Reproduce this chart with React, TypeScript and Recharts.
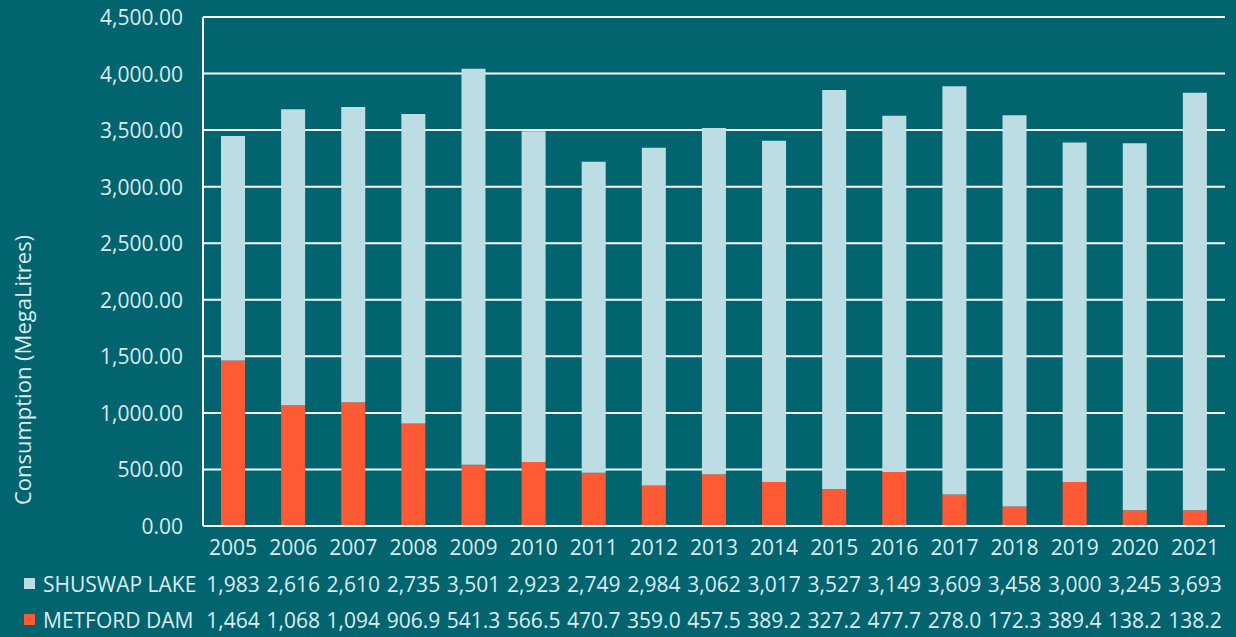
import { BarChart, Bar, XAxis, YAxis, CartesianGrid } from "recharts";

const years = ["2005", "2006", "2007", "2008", "2009", "2010", "2011", "2012", "2013", "2014", "2015", "2016", "2017", "2018", "2019", "2020", "2021"];
const shuswapLake = [1983, 2616, 2610, 2735, 3501, 2923, 2749, 2984, 3062, 3017, 3527, 3149, 3609, 3458, 3000, 3245, 3693];
const metfordDam = [1464, 1068, 1094, 906.9, 541.3, 566.5, 470.7, 359.0, 457.5, 389.2, 327.2, 477.7, 278.0, 172.3, 389.4, 138.2, 138.2];
const yTicks = [0, 500, 1000, 1500, 2000, 2500, 3000, 3500, 4000, 4500];

const BG = "#02646F";
const LAKE = "#BDDDE5";
const DAM = "#FF5A36";
const TEXT = "#DCEBED";
const FONT = "'Open Sans', sans-serif";

const data = years.map((year, i) => ({
  year,
  shuswap: shuswapLake[i],
  metford: metfordDam[i],
}));

// excel data table: thousands as integers, the rest with one decimal
const fmt = (v: number) =>
  v >= 1000 ? Math.round(v).toLocaleString("en-US") : v.toFixed(1);

function TableTick(props: any) {
  const { x, y, payload } = props;
  const i = payload.index;
  const txt = { fill: TEXT, fontSize: 21, fontFamily: FONT, textAnchor: "middle" as const, dominantBaseline: "central" as const };
  return (
    <g>
      <text x={x} y={y + 21} {...txt}>{years[i]}</text>
      <text x={x} y={y + 58} {...txt}>{fmt(shuswapLake[i])}</text>
      <text x={x} y={y + 94} {...txt}>{fmt(metfordDam[i])}</text>
      {i === 0 && (
        <g>
          <rect x={24} y={y + 52} width={11} height={11} fill={LAKE} />
          <text x={43} y={y + 58} fill={TEXT} fontSize={21} fontFamily={FONT} dominantBaseline="central">SHUSWAP LAKE</text>
          <rect x={24} y={y + 88} width={11} height={11} fill={DAM} />
          <text x={43} y={y + 94} fill={TEXT} fontSize={21} fontFamily={FONT} dominantBaseline="central">METFORD DAM</text>
        </g>
      )}
    </g>
  );
}

function ValueTick(props: any) {
  const { x, y, payload } = props;
  return (
    <text x={x - 20} y={y} fill={TEXT} fontSize={21} fontFamily={FONT} textAnchor="end" dominantBaseline="central">
      {payload.value.toLocaleString("en-US", { minimumFractionDigits: 2, maximumFractionDigits: 2 })}
    </text>
  );
}

function YTitle() {
  return (
    <text x={22} y={370} fill={TEXT} fontSize={22} fontFamily={FONT} textAnchor="middle" dominantBaseline="central" transform="rotate(-90 22 370)">
      Consumption (MegaLitres)
    </text>
  );
}

export default function App() {
  return (
    <div style={{ position: "absolute", left: 0, top: 0, width: 1236, height: 637, background: BG }}>
      <BarChart width={1236} height={637} data={data} margin={{ top: 17, right: 11, left: 0, bottom: 0 }}>
        <CartesianGrid vertical={false} stroke="#FFFFFF" strokeWidth={2} />
        <XAxis
          dataKey="year"
          height={111}
          interval={0}
          tickLine={false}
          tickSize={0}
          tickMargin={0}
          axisLine={{ stroke: "#FFFFFF", strokeWidth: 2 }}
          tick={<TableTick />}
        />
        <YAxis
          width={203}
          domain={[0, 4500]}
          ticks={yTicks}
          tickLine={false}
          tickSize={0}
          tickMargin={0}
          axisLine={{ stroke: "#FFFFFF", strokeWidth: 2 }}
          tick={<ValueTick />}
          label={<YTitle />}
        />
        <Bar dataKey="metford" stackId="a" fill={DAM} barSize={24} isAnimationActive={false} />
        <Bar dataKey="shuswap" stackId="a" fill={LAKE} barSize={24} isAnimationActive={false} />
      </BarChart>
    </div>
  );
}
